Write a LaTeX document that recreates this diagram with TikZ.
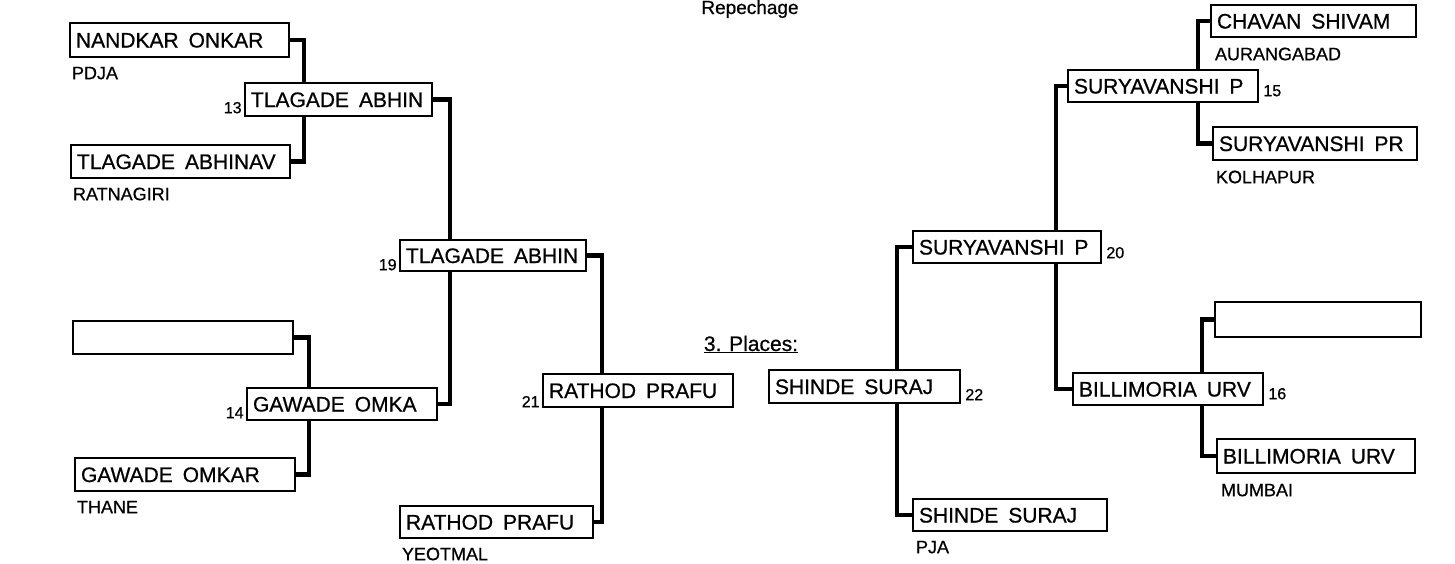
\documentclass[tikz,border=0pt]{standalone}
\usepackage{fontspec}
\setmainfont{Liberation Sans}
\newfontfamily\scanfont{Liberation Sans}[FakeBold=0.7]
\usetikzlibrary{calc}
\tikzset{
  box/.style={draw, line width=2.4pt, fill=white, inner xsep=6pt, inner ysep=0pt,
    font=\scanfont\fontsize{21}{21}\selectfont, align=left, text height=15pt, text depth=0pt},
  conn/.style={line width=4.5pt},
  club/.style={font=\scanfont\fontsize{18}{18}\selectfont, inner sep=0pt},
  num/.style={font=\scanfont\fontsize{16}{16}\selectfont, inner sep=0pt},
  ttl/.style={font=\scanfont\fontsize{19}{19}\selectfont, inner sep=0pt},
}
\newcommand\wg{\hspace{10pt}}
\newcommand\bx[6]{%
  \pgfmathsetlengthmacro\bxtw{(#4-#2-12)*1pt}%
  \node[box, minimum width={(#4-#2)*1pt}, minimum height={(#5-#3)*1pt}, text width=\bxtw]
    (#1) at ({(#2+#4)/2},{(#3+#5)/2}) {\mbox{#6}};}
\begin{document}
\begin{tikzpicture}[x=1pt,y=-1pt]
\useasboundingbox (0,0) rectangle (1455,563);
\fill[white] (0,0) rectangle (1455,563);

% titles
\node[ttl, anchor=base] (rep) at (750,14) {Repechage};
\node[ttl, font=\scanfont\fontsize{21}{21}\selectfont, anchor=base] (pl) at (751,351) {\underline{3. Places:}};

% left side boxes
\bx{nandkar}{70}{23}{289}{57}{NANDKAR\wg ONKAR}
\bx{b13}{245}{83}{432}{116}{TLAGADE\wg ABHIN}
\bx{abhinav}{71}{145}{290}{178}{TLAGADE\wg ABHINAV}
\bx{b19}{400}{240}{586}{271}{TLAGADE\wg ABHIN}
\bx{empty1}{73}{321}{293}{354}{}
\bx{b14}{247}{388}{437}{420}{GAWADE\wg OMKA}
\bx{gawade}{75}{458}{295}{491}{GAWADE\wg OMKAR}
\bx{b21}{543}{374}{733}{407}{RATHOD\wg PRAFU}
\bx{rathod}{400}{506}{593}{538}{RATHOD\wg PRAFU}

% right side boxes
\bx{b22}{769}{370}{960}{403}{SHINDE\wg SURAJ}
\bx{shinde}{913}{499}{1107}{531}{SHINDE\wg SURAJ}
\bx{b20}{913}{231}{1101}{263}{SURYAVANSHI\wg P}
\bx{chavan}{1211}{5}{1416}{37}{CHAVAN\wg SHIVAM}
\bx{b15}{1068}{70}{1258}{102}{SURYAVANSHI\wg P}
\bx{suryapr}{1213}{127}{1417}{160}{SURYAVANSHI\wg PR}
\bx{emptyR}{1215}{302}{1421}{337}{}
\bx{b16}{1073}{373}{1263}{405}{BILLIMORIA\wg URV}
\bx{billi}{1217}{439}{1415}{473}{BILLIMORIA\wg URV}

% bracket x positions
\coordinate (k13) at (304,0);
\coordinate (k14) at (309,0);
\coordinate (k19) at (450,0);
\coordinate (k21) at (602,0);
\coordinate (k22) at (897,0);
\coordinate (k20) at (1056,0);
\coordinate (k15) at (1198,0);
\coordinate (k16) at (1202,0);

% connectors
\draw[conn] (nandkar.east) -| (k13 |- b13.north);
\draw[conn] (b13.south -| k13) |- (abhinav.east);
\draw[conn] (empty1.east) -| (k14 |- b14.north);
\draw[conn] (b14.south -| k14) |- (gawade.east);
\draw[conn] (b13.east) -| (k19 |- b19.north);
\draw[conn] (b19.south -| k19) |- (b14.east);
\draw[conn] (b19.east) -| (k21 |- b21.north);
\draw[conn] (b21.south -| k21) |- (rathod.east);
\draw[conn] (chavan.west) -| (k15 |- b15.north);
\draw[conn] (b15.south -| k15) |- (suryapr.west);
\draw[conn] (emptyR.west) -| (k16 |- b16.north);
\draw[conn] (b16.south -| k16) |- (billi.west);
\draw[conn] (b15.west) -| (k20 |- b20.north);
\draw[conn] (b20.south -| k20) |- (b16.west);
\draw[conn] (b20.west) -| (k22 |- b22.north);
\draw[conn] (b22.south -| k22) |- (shinde.west);

% club labels
\node[club, anchor=base west] (c1) at ($(nandkar.south west)+(3,21)$) {PDJA};
\node[club, anchor=base west] (c2) at ($(abhinav.south west)+(3,21)$) {RATNAGIRI};
\node[club, anchor=base west] (c3) at ($(gawade.south west)+(3,21)$) {THANE};
\node[club, anchor=base west] (c4) at ($(rathod.south west)+(3,21)$) {YEOTMAL};
\node[club, anchor=base west] (c5) at ($(shinde.south west)+(4,21)$) {PJA};
\node[club, anchor=base west] (c6) at ($(chavan.south west)+(5,22)$) {AURANGABAD};
\node[club, anchor=base west] (c7) at ($(suryapr.south west)+(4,22)$) {KOLHAPUR};
\node[club, anchor=base west] (c8) at ($(billi.south west)+(5,22)$) {MUMBAI};

% match numbers
\node[num, anchor=base east] (n13) at ($(b13.south west)+(-2,-4)$) {13};
\node[num, anchor=base east] (n19) at ($(b19.south west)+(-2,-2)$) {19};
\node[num, anchor=base east] (n14) at ($(b14.south west)+(-2,-3)$) {14};
\node[num, anchor=base east] (n21) at ($(b21.south west)+(-2,-1)$) {21};
\node[num, anchor=base west] (n22) at ($(b22.south east)+(4,-4)$) {22};
\node[num, anchor=base west] (n20) at ($(b20.south east)+(4,-6)$) {20};
\node[num, anchor=base west] (n15) at ($(b15.south east)+(4,-7)$) {15};
\node[num, anchor=base west] (n16) at ($(b16.south east)+(4,-7)$) {16};
\end{tikzpicture}
\end{document}
